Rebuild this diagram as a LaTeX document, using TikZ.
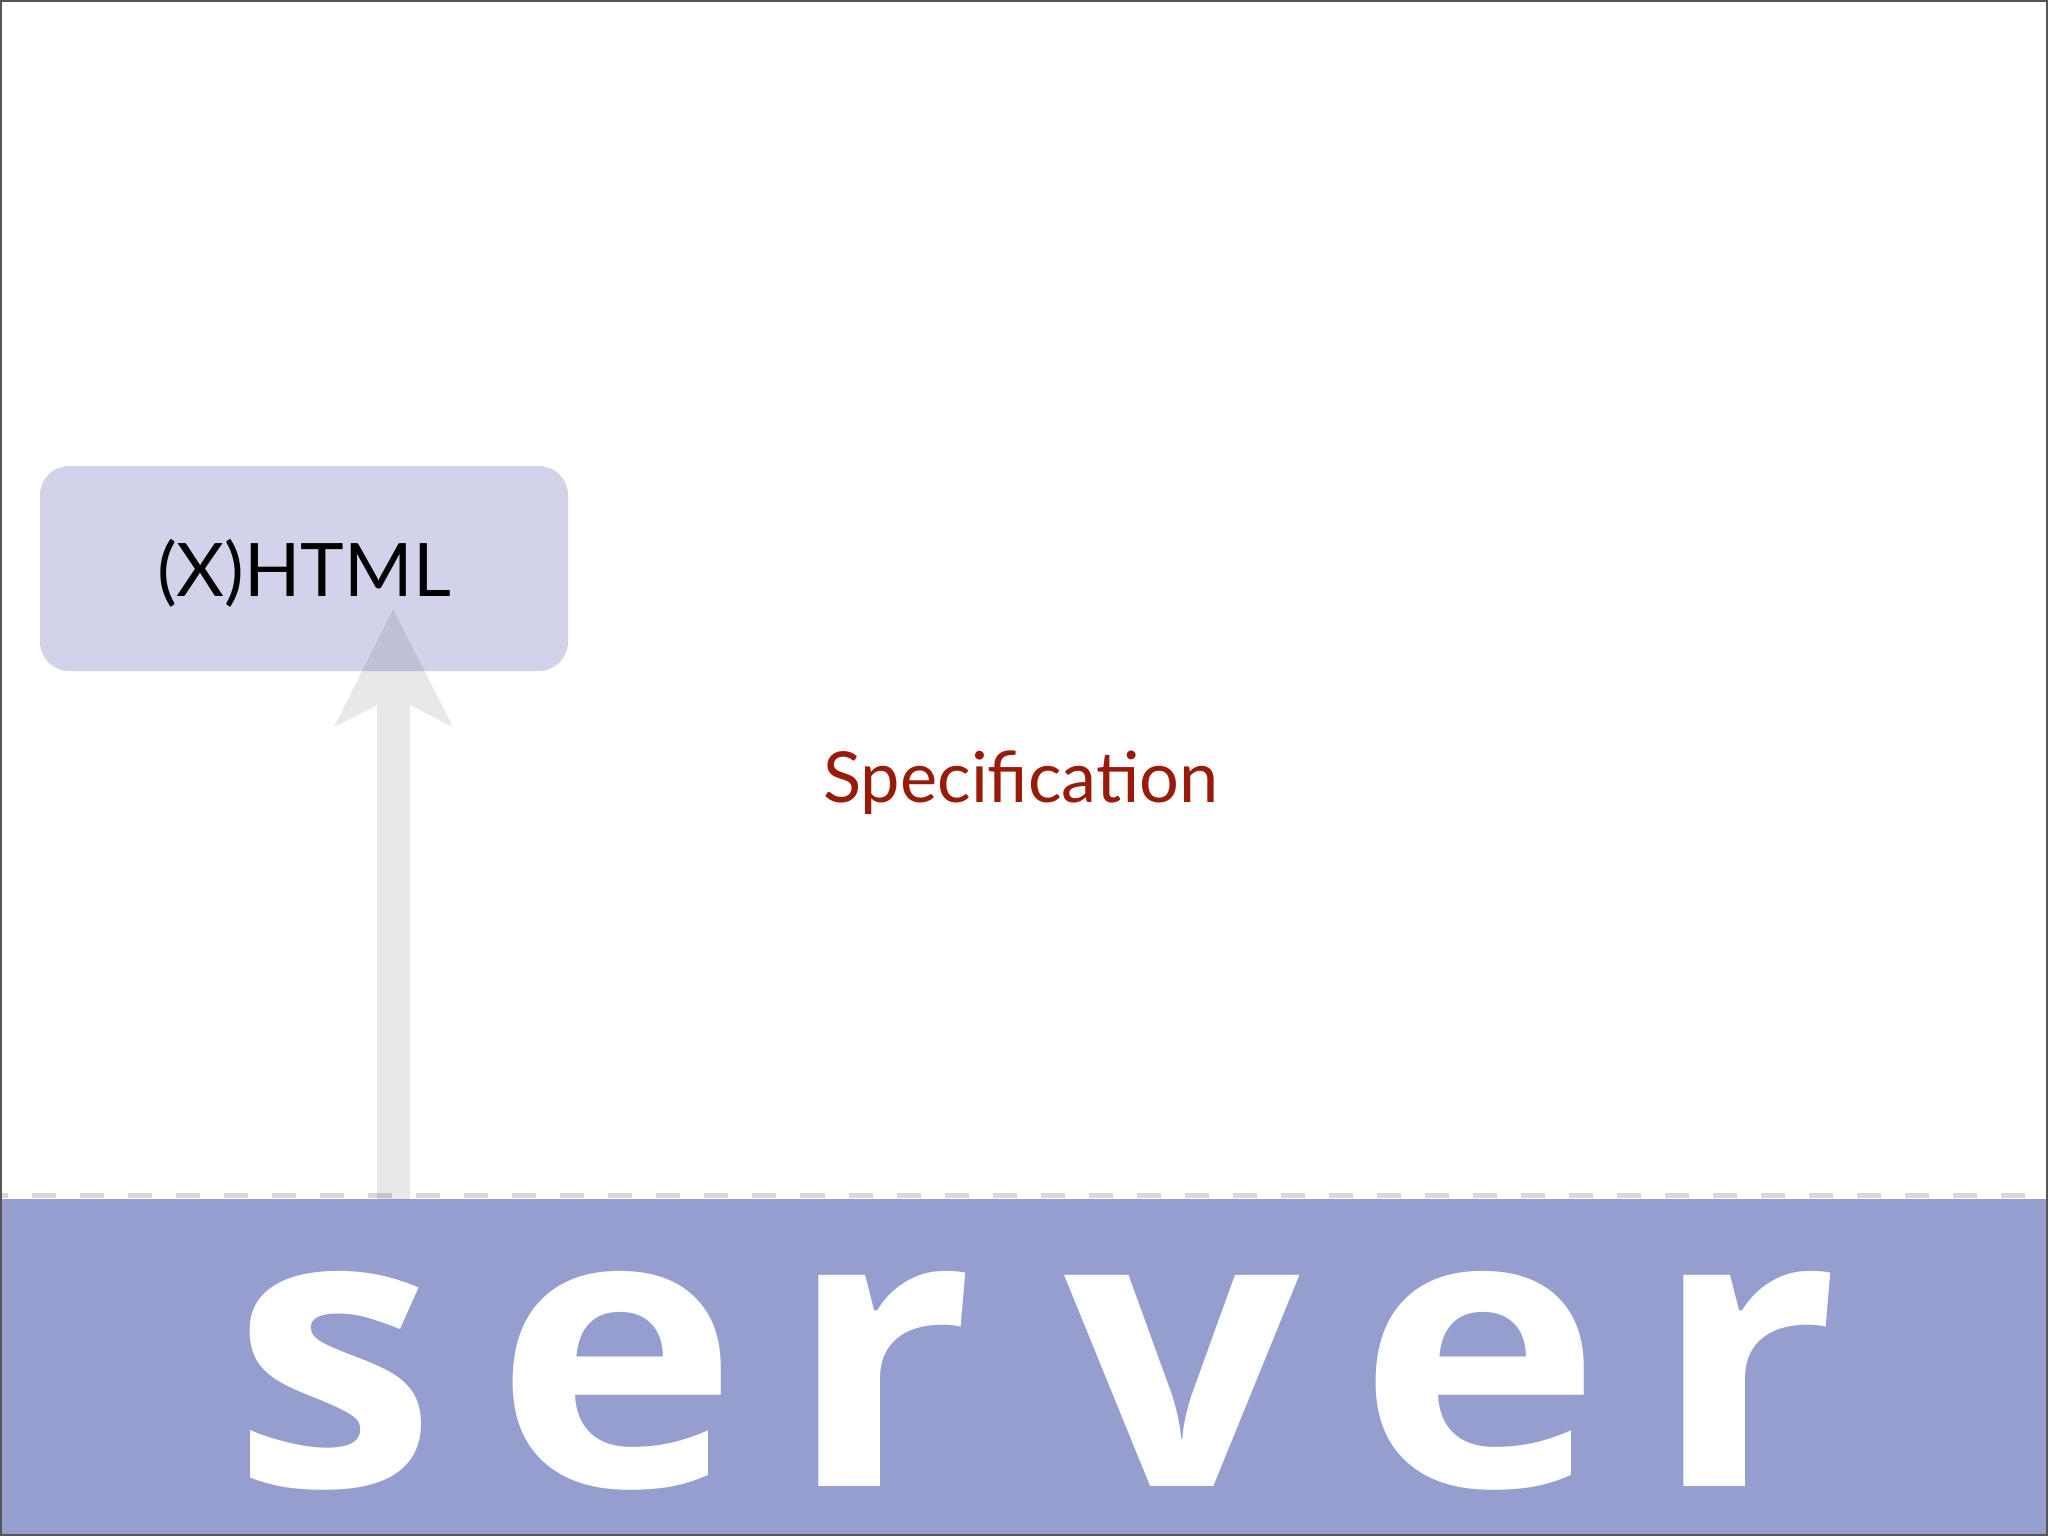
\documentclass[tikz,border=0pt]{standalone}
\usepackage{fontspec}
\setmainfont{Lato}
\newfontfamily\bandfont{Open Sans}
\definecolor{bandblue}{HTML}{969ECF}
\definecolor{boxblue}{HTML}{D2D3EB}
\definecolor{specred}{HTML}{981B0A}
\definecolor{arrowgray}{HTML}{E8E8E8}
\definecolor{dashgray}{HTML}{D9D9D9}
\definecolor{framegray}{HTML}{555555}
\newcommand{\wideletter}[1]{\scalebox{1.07}[1]{#1}}
\tikzset{
  letter/.style={anchor=base, inner sep=0pt, text=white, font=\bandfont\bfseries\fontsize{110pt}{112pt}\selectfont},
  htmlbox/.style={fill=boxblue, rounded corners=0.29cm, draw=none},
  label/.style={anchor=base, inner sep=0pt}
}
\begin{document}
\begin{tikzpicture}[x=0.01cm,y=-0.01cm]
\useasboundingbox (0,0) rectangle (2048,1536);
\fill[white] (0,0) rectangle (2048,1536);
% server band
\fill[bandblue] (0,1199) rectangle (2048,1536);
\draw[dashgray, line width=0.05cm, dash pattern=on 0.24cm off 0.24cm, dash phase=0.16cm] (0,1195) -- (2048,1195);
% (X)HTML box
\fill[htmlbox] (40,466) rectangle (568,671);
\node[label, font=\fontsize{21pt}{24pt}\selectfont] (html) at (304,596) {(X)HTML};
% arrow
\begin{scope}[blend mode=multiply]
\fill[arrowgray] (334,727) -- (393,609) -- (453,727) -- (410,705) -- (410,1199) -- (377,1199) -- (377,705) -- cycle;
\end{scope}
% Specification
\node[label, text=specred, font=\fontsize{20pt}{24pt}\selectfont] (spec) at (1021,802) {Specification};
% server letters
\node[letter] (s1) at (334,1486) {\wideletter{s}};
\node[letter] (e1) at (617,1486) {\wideletter{e}};
\node[letter] (r1) at (880,1486) {\wideletter{r}};
\node[letter] (v1) at (1182,1486) {\wideletter{v}};
\node[letter] (e2) at (1480,1486) {\wideletter{e}};
\node[letter] (r2) at (1745,1486) {\wideletter{r}};
% frame
\draw[framegray, line width=0.02cm] (1,1) rectangle (2047,1535);
\end{tikzpicture}
\end{document}
